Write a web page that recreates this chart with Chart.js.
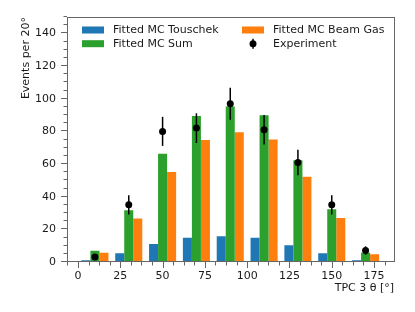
<!DOCTYPE html>
<html>
<head>
<meta charset="utf-8">
<script src="https://cdn.jsdelivr.net/npm/chart.js@4"></script>
<style>
  html, body { margin: 0; padding: 0; background: #fff; }
  canvas { display: block; }
</style>
</head>
<body>
<canvas id="chart" width="415" height="312"></canvas>
<script>
// ================================
// Data
// ================================

const binCentres = [10, 30, 50, 70, 90, 110, 130, 150, 170];
const touschek = [1.0, 5.3, 11.0, 14.8, 15.8, 14.8, 10.3, 5.3, 1.0];
const mcSum = [6.9, 31.7, 66.3, 89.5, 95.2, 89.9, 62.3, 32.3, 5.6];
const beamGas = [5.7, 26.6, 55.2, 74.7, 79.5, 75.0, 52.2, 27.0, 4.7];
const experiment = [3, 35, 80, 82, 97, 81, 61, 35, 7];
const experimentErr = [1.7, 5.9, 8.9, 9.1, 9.8, 9.0, 7.8, 5.9, 2.6];

const xTicks = [0, 25, 50, 75, 100, 125, 150, 175];
const yTicks = [0, 20, 40, 60, 80, 100, 120, 140];

const BLUE = '#1f77b4';
const GREEN = '#2ca02c';
const ORANGE = '#ff7f0e';
const AXIS = '#666666';
const TEXT = '#1a1a1a';
const FONT = 'DejaVu Sans';
const FSIZE = 11;

const toPoints = (vals) => vals.map((v, i) => ({ x: binCentres[i], y: v }));

// ================================
// Frame, minor ticks, error bars, legend
// ================================

const decor = {
  id: 'decor',
  afterDatasetsDraw(chart) {
    const { ctx, scales: { x, y } } = chart;
    ctx.save();
    ctx.strokeStyle = '#000';
    ctx.lineWidth = 1.5;
    experiment.forEach((v, i) => {
      const px = x.getPixelForValue(binCentres[i]);
      ctx.beginPath();
      ctx.moveTo(px, y.getPixelForValue(v - experimentErr[i]));
      ctx.lineTo(px, y.getPixelForValue(v + experimentErr[i]));
      ctx.stroke();
    });
    ctx.restore();
  },
  afterDraw(chart) {
    const { ctx, chartArea: a, scales: { x, y } } = chart;
    ctx.save();
    ctx.strokeStyle = AXIS;
    ctx.lineWidth = 1;
    ctx.strokeRect(Math.round(a.left) + 0.5, Math.round(a.top) + 0.5,
      Math.round(a.right - a.left) - 1, Math.round(a.bottom - a.top) - 1);

    // x ticks (major + minor every 6.25)
    const yb = Math.round(a.bottom);
    for (let v = -25; v <= 200; v += 6.25) {
      const px = x.getPixelForValue(v);
      if (px < a.left || px > a.right) continue;
      const major = Math.abs(v % 25) < 1e-6;
      ctx.beginPath();
      ctx.moveTo(Math.round(px) + 0.5, yb);
      ctx.lineTo(Math.round(px) + 0.5, yb + (major ? 6 : 3.5));
      ctx.stroke();
    }
    // y ticks (major + minor every 5)
    const xl = Math.round(a.left);
    for (let v = 0; v <= 150; v += 5) {
      const py = y.getPixelForValue(v);
      const major = v % 20 === 0;
      ctx.beginPath();
      ctx.moveTo(xl, Math.round(py) - 0.5);
      ctx.lineTo(xl - (major ? 6 : 3.5), Math.round(py) - 0.5);
      ctx.stroke();
    }

    // legend, two columns
    ctx.font = `${FSIZE}px "${FONT}"`;
    ctx.textBaseline = 'middle';
    ctx.textAlign = 'left';
    const rows = [30, 43.7];
    const cols = [82, 242];
    const items = [
      { label: 'Fitted MC Touschek', color: BLUE, col: 0, row: 0 },
      { label: 'Fitted MC Sum', color: GREEN, col: 0, row: 1 },
      { label: 'Fitted MC Beam Gas', color: ORANGE, col: 1, row: 0 },
      { label: 'Experiment', color: null, col: 1, row: 1 }
    ];
    items.forEach(it => {
      const lx = cols[it.col];
      const ly = rows[it.row];
      if (it.color) {
        ctx.fillStyle = it.color;
        ctx.fillRect(lx, ly - 3.5, 22, 7);
      } else {
        ctx.strokeStyle = '#000';
        ctx.lineWidth = 1.5;
        ctx.beginPath();
        ctx.moveTo(lx + 11, ly - 5);
        ctx.lineTo(lx + 11, ly + 5);
        ctx.stroke();
        ctx.fillStyle = '#000';
        ctx.beginPath();
        ctx.arc(lx + 11, ly, 3.5, 0, Math.PI * 2);
        ctx.fill();
      }
      ctx.fillStyle = TEXT;
      ctx.fillText(it.label, lx + 31, ly);
    });
    ctx.restore();
  }
};

// ================================
// Chart
// ================================

new Chart(document.getElementById('chart'), {
  type: 'bar',
  data: {
    datasets: [
      { label: 'Fitted MC Touschek', data: toPoints(touschek), backgroundColor: BLUE, order: 1 },
      { label: 'Fitted MC Sum', data: toPoints(mcSum), backgroundColor: GREEN, order: 1 },
      { label: 'Fitted MC Beam Gas', data: toPoints(beamGas), backgroundColor: ORANGE, order: 1 },
      {
        type: 'scatter',
        label: 'Experiment',
        data: toPoints(experiment),
        backgroundColor: '#000',
        borderColor: '#000',
        pointRadius: 3.5,
        borderWidth: 0,
        order: 0
      }
    ]
  },
  options: {
    responsive: false,
    animation: false,
    devicePixelRatio: 1,
    layout: { padding: { left: 20, right: 21, top: 16, bottom: 17.5 } },
    datasets: {
      bar: { categoryPercentage: 0.8, barPercentage: 1.0, borderWidth: 0 }
    },
    plugins: {
      legend: { display: false },
      tooltip: { enabled: false }
    },
    scales: {
      x: {
        type: 'linear',
        min: -6.8,
        max: 186.8,
        offset: false,
        grid: { display: false, drawTicks: false },
        border: { display: false },
        afterBuildTicks: (s) => { s.ticks = xTicks.map(v => ({ value: v })); },
        afterFit: (s) => { s.height = 32.5; },
        ticks: {
          autoSkip: false,
          maxRotation: 0,
          padding: 7.5,
          color: TEXT,
          font: { family: FONT, size: FSIZE }
        },
        title: {
          display: true,
          text: 'TPC 3 θ [°]',
          align: 'end',
          color: TEXT,
          padding: { top: 0, bottom: 0 },
          font: { family: FONT, size: FSIZE, lineHeight: 1.2 }
        }
      },
      y: {
        min: 0,
        max: 150,
        grid: { display: false, drawTicks: false },
        border: { display: false },
        afterBuildTicks: (s) => { s.ticks = yTicks.map(v => ({ value: v })); },
        afterFit: (s) => { s.width = 46.5; },
        ticks: {
          autoSkip: false,
          padding: 10.5,
          color: TEXT,
          font: { family: FONT, size: FSIZE }
        },
        title: {
          display: true,
          text: 'Events per 20°',
          align: 'end',
          color: TEXT,
          padding: { top: 0, bottom: 0 },
          font: { family: FONT, size: FSIZE, lineHeight: 1.2 }
        }
      }
    }
  },
  plugins: [decor]
});
</script>
</body>
</html>
